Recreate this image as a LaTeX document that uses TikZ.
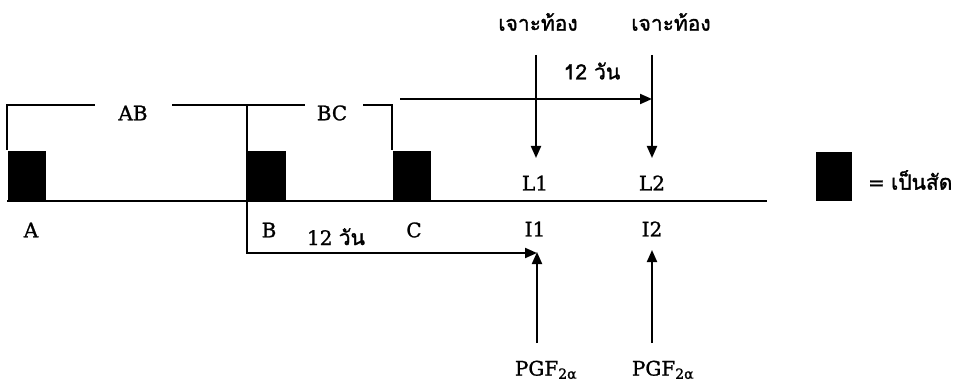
\documentclass[tikz,border=0pt]{standalone}
\usepackage{fontspec}
\setmainfont[FakeBold=1.2,AutoFakeBold=1.2]{DejaVu Serif}
\newfontfamily\thaifont[Script=Thai,FakeBold=1.5,AutoFakeBold=1.5]{Loma}
\usetikzlibrary{arrows.meta}

\begin{document}
\begin{tikzpicture}[x=1pt,y=-1pt,line width=2pt,
  lab/.style={font=\fontsize{20}{22}\selectfont,inner sep=0pt},
  thai/.style={font=\thaifont\fontsize{21}{24}\selectfont,inner sep=0pt},
  estrus/.style={fill=black,draw=none,minimum width=38pt,minimum height=49pt,
                 inner sep=0pt,anchor=south west},
  tip/.style={-{Triangle[length=12pt,width=10pt]}},
  axis/.style={line width=2.5pt}]
\useasboundingbox (0,0) rectangle (956,385);

% time axis
\coordinate (ax0) at (7,201);
\coordinate (ax1) at (767,201);
\draw[axis] (ax0) -- (ax1);

% oestrus periods
\node[estrus] (boxA) at (7,201) {};
\node[estrus] (boxB) at (247,201) {};
\node[estrus] (boxC) at (392,201) {};

\node[lab] (A) at (31,230) {A};
\node[lab] (B) at (269,230) {B};
\node[lab] (C) at (414,230) {C};

% cycle brackets
\coordinate (abTL) at (7,105);
\coordinate (abGapL) at (95,105);
\coordinate (abGapR) at (172,105);
\coordinate (bTop) at (247,105);
\coordinate (bcGapL) at (305,105);
\coordinate (bcGapR) at (363,105);
\coordinate (bcTR) at (392,105);
\node[lab] (AB) at (133,113) {AB};
\node[lab] (BC) at (332,113) {BC};
\draw (boxA.north west) -- (abTL) -- (abGapL);
\draw (abGapR) -- (bTop) -- (bcGapL);
\draw (bcGapR) -- (bcTR) -- (boxC.north west);

% laparotomy markers
\node[thai] (lap1) at (538,22) {เจาะท้อง};
\node[thai] (lap2) at (671,22) {เจาะท้อง};
\coordinate (d1) at (536,55);
\coordinate (d2) at (652,55);
\node[lab] (L1) at (535,183) {L1};
\node[lab] (L2) at (652,183) {L2};
\draw[tip] (d1) -- (d1 |- 0,158);
\draw[tip] (d2) -- (d2 |- 0,158);

% 12-day interval, top
\coordinate (top0) at (400,99);
\coordinate (top1) at (652,99);
\draw[tip] (top0) -- (top1);
\node[thai] (dTop) at (592,71) {12 วัน};

% injection markers
\node[lab] (I1) at (535,229) {I1};
\node[lab] (I2) at (652,229) {I2};
\node[lab] (pgf1) at (546,370) {PGF\textsubscript{2α}};
\node[lab] (pgf2) at (663,370) {PGF\textsubscript{2α}};
\coordinate (u1) at (537,343);
\coordinate (u2) at (652,343);
\coordinate (i1tip) at (537,252);
\coordinate (i2tip) at (652,250);
\draw[tip] (u1) -- (i1tip);
\draw[tip] (u2) -- (i2tip);

% 12-day interval, bottom
\coordinate (bCorner) at (247,253);
\draw[tip] (bTop) -- (bCorner) -- (i1tip |- bCorner);
\node[lab,anchor=base] (dBot) at (336,245) {12 {\thaifont\fontsize{21}{24}\selectfont วัน}};

% legend
\node[estrus,minimum width=36pt] (key) at (815,202) {};
\node[lab,anchor=west] (keyTxt) at (867,180) {= {\thaifont\fontsize{21}{24}\selectfont เป็นสัด}};
\end{tikzpicture}
\end{document}
